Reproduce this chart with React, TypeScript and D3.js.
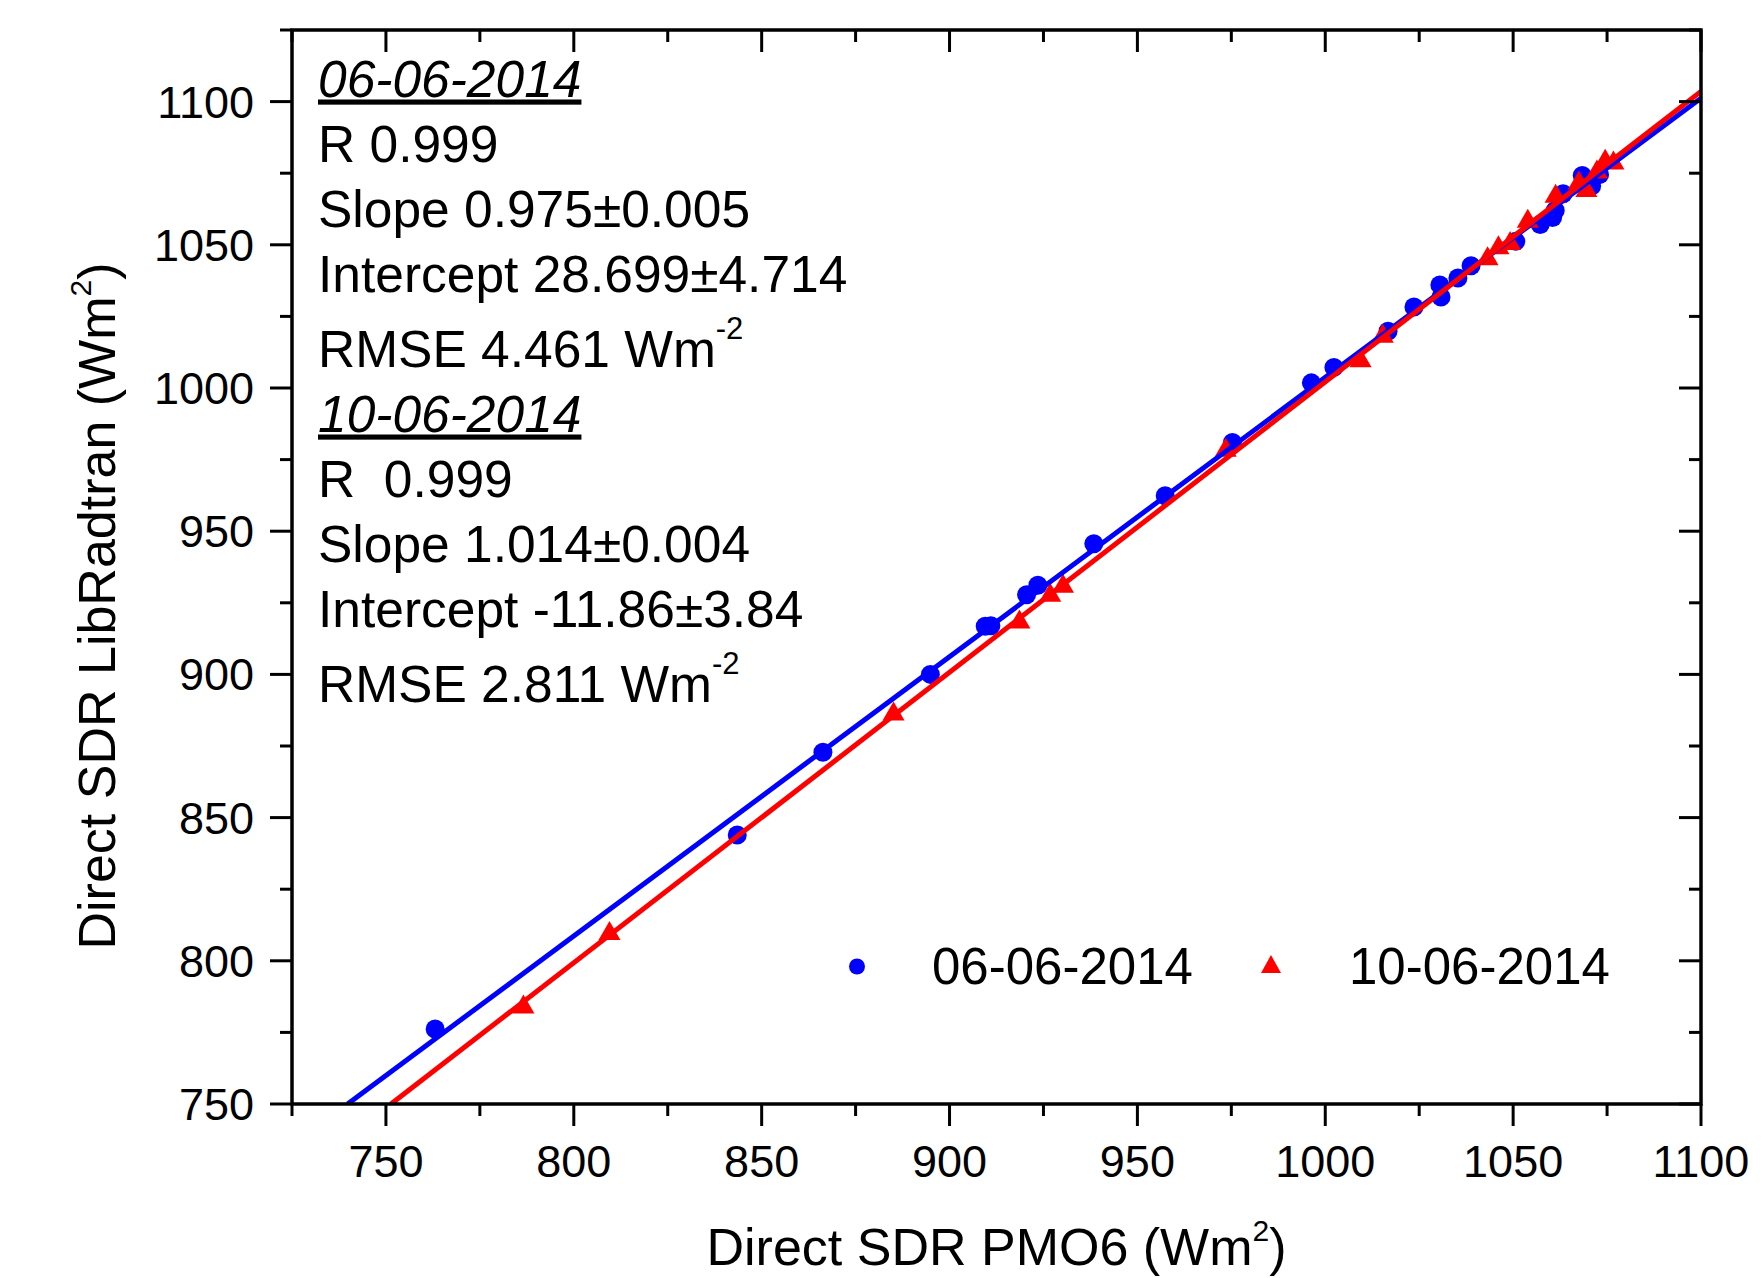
import * as d3 from "d3";

// 06-06-2014 (blue circles)
const blueX = [763.1, 843.5, 866.3, 894.9, 909.5, 911.0, 920.5, 923.5, 938.4, 957.4, 975.3, 996.3, 1002.3, 1016.7, 1023.6, 1030.5, 1030.8, 1035.3, 1038.8, 1050.7, 1057.2, 1060.5, 1061.2, 1063.3, 1068.4, 1070.9, 1073.0];
const blueY = [776.2, 843.9, 872.8, 900.0, 916.8, 917.0, 927.8, 931.1, 945.6, 962.4, 981.0, 1001.8, 1007.2, 1019.8, 1028.3, 1036.0, 1031.8, 1038.4, 1042.7, 1051.2, 1057.1, 1059.5, 1062.0, 1067.8, 1074.2, 1070.5, 1074.5];

// 10-06-2014 (red triangles)
const redX = [786.6, 809.5, 885.1, 918.6, 926.8, 930.2, 973.5, 1009.4, 1015.3, 1043.2, 1046.1, 1049.2, 1053.9, 1061.3, 1067.5, 1069.5, 1072.3, 1074.5, 1076.7];
const redY = [784.9, 810.6, 887.2, 919.3, 928.7, 931.8, 979.3, 1010.6, 1019.1, 1046.2, 1050.0, 1051.5, 1059.3, 1068.0, 1072.6, 1070.0, 1076.5, 1080.2, 1079.6];

// linear fits printed on the chart
const blueFit = { slope: 0.975, intercept: 28.699 };
const redFit = { slope: 1.014, intercept: -11.86 };

const xTicks = d3.range(725, 1101, 25);
const yTicks = d3.range(750, 1126, 25);

const seriesNames = ["06-06-2014", "10-06-2014"];

const annoLines = [
  { text: "06-06-2014", head: true },
  { text: "R 0.999" },
  { text: "Slope 0.975\u00b10.005" },
  { text: "Intercept 28.699\u00b14.714" },
  { text: "RMSE 4.461 Wm", sup: "-2" },
  { text: "10-06-2014", head: true },
  { text: "R\u00a0\u00a00.999" },
  { text: "Slope 1.014\u00b10.004" },
  { text: "Intercept -11.86\u00b13.84" },
  { text: "RMSE 2.811 Wm", sup: "-2" },
];

const W = 1763;
const H = 1278;
const left = 292, right = 1701, top = 30, bottom = 1104;
const font = "'Liberation Sans', Arial, sans-serif";
const BLUE = "#0000ff";
const RED = "#ff0000";

function tri(cx: number, cy: number, w: number, h: number) {
  return `M${cx},${cy - h / 2}L${cx + w / 2},${cy + h / 2}L${cx - w / 2},${cy + h / 2}Z`;
}

export default function App() {
  const x = d3.scaleLinear([725, 1100], [left, right]);
  const y = d3.scaleLinear([750, 1125], [bottom, top]);

  const fitLine = (f: { slope: number; intercept: number }) => {
    const x0 = (750 - f.intercept) / f.slope;
    const pts: [number, number][] = [
      [x0, 750],
      [1100, f.slope * 1100 + f.intercept],
    ];
    return d3.line<[number, number]>(d => x(d[0]), d => y(d[1]))(pts) || "";
  };

  let base = 96.5;
  const annoPos = annoLines.map((l, i) => {
    if (i > 0) base += 65 + (l.sup ? 10 : 0);
    return base;
  });

  return (
    <svg width={W} height={H} style={{ position: "absolute", left: 0, top: 0, background: "#fff" }} fontFamily={font}>
      <defs>
        <clipPath id="plot">
          <rect x={left} y={top} width={right - left} height={bottom - top} />
        </clipPath>
      </defs>

      {/* markers */}
      <g fill={BLUE}>
        {blueX.map((v, i) => (
          <circle key={i} cx={x(v)} cy={y(blueY[i])} r={9.5} />
        ))}
      </g>
      <g fill={RED}>
        {redX.map((v, i) => (
          <path key={i} d={tri(x(v), y(redY[i]), 22, 19)} />
        ))}
      </g>

      {/* fit lines */}
      <g clipPath="url(#plot)" fill="none" strokeWidth={5}>
        <path d={fitLine(blueFit)} stroke={BLUE} />
        <path d={fitLine(redFit)} stroke={RED} />
      </g>

      {/* frame */}
      <rect x={left} y={top} width={right - left} height={bottom - top} fill="none" stroke="#000" strokeWidth={3.5} />

      {/* ticks */}
      <g stroke="#000" strokeWidth={3}>
        {xTicks.map(t => {
          const len = t % 50 === 0 ? 22 : 12;
          return (
            <g key={t}>
              <line x1={x(t)} x2={x(t)} y1={bottom} y2={bottom + len} />
              <line x1={x(t)} x2={x(t)} y1={top} y2={top + len} />
            </g>
          );
        })}
        {yTicks.map(t => {
          const len = t % 50 === 0 ? 22 : 12;
          return (
            <g key={t}>
              <line x1={left - len} x2={left} y1={y(t)} y2={y(t)} />
              <line x1={right - len} x2={right} y1={y(t)} y2={y(t)} />
            </g>
          );
        })}
      </g>

      {/* tick labels */}
      <g fontSize={45} fill="#000">
        {xTicks.filter(t => t % 50 === 0).map(t => (
          <text key={t} x={x(t)} y={1177} textAnchor="middle">{t}</text>
        ))}
        {yTicks.filter(t => t % 50 === 0).map(t => (
          <text key={t} x={254} y={y(t) + 16} textAnchor="end">{t}</text>
        ))}
      </g>

      {/* axis titles */}
      <text x={(left + right) / 2} y={1265} textAnchor="middle" fontSize={52}>
        Direct SDR PMO6 (Wm<tspan dy={-24} fontSize={30}>2</tspan><tspan dy={24}>)</tspan>
      </text>
      <text transform="translate(115,606) rotate(-90)" textAnchor="middle" fontSize={52}>
        Direct SDR LibRadtran (Wm<tspan dy={-24} fontSize={30}>2</tspan><tspan dy={24}>)</tspan>
      </text>

      {/* statistics */}
      <g fontSize={51.5} fill="#000">
        {annoLines.map((l, i) => (
          <text
            key={i}
            x={318}
            y={annoPos[i]}
            fontStyle={l.head ? "italic" : "normal"}
            textDecoration={l.head ? "underline" : "none"}
          >
            {l.text}
            {l.sup && <tspan dy={-28} fontSize={31}>{l.sup}</tspan>}
          </text>
        ))}
      </g>

      {/* legend */}
      <g fontSize={51}>
        <circle cx={857} cy={966.5} r={8} fill={BLUE} />
        <text x={932} y={983.5}>{seriesNames[0]}</text>
        <path d={tri(1271, 964, 20, 18)} fill={RED} />
        <text x={1349} y={983.5}>{seriesNames[1]}</text>
      </g>
    </svg>
  );
}
